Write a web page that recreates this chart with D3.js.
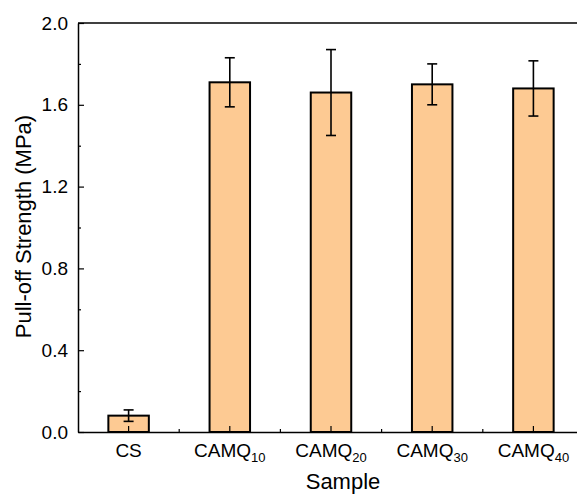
<!DOCTYPE html>
<html lang="en">
<script src="https://d3js.org/d3.v7.min.js"></script>
<style>
  body { margin: 0; background: #fff; }
  svg { font-family: Arial, "Liberation Sans", sans-serif; }
  .bar { fill: #fdca93; stroke: #000; stroke-width: 2; }
  .err { stroke: #000; stroke-width: 1.6; fill: none; }
</style>
<body>
<svg id="chart" width="577" height="495"></svg>
<script>
  // sample names, base part and subscript part
  var samples = ["CS", "CAMQ10", "CAMQ20", "CAMQ30", "CAMQ40"];
  var labelBase = ["CS", "CAMQ", "CAMQ", "CAMQ", "CAMQ"];
  var labelSub = ["", "10", "20", "30", "40"];
  var strength = [0.08, 1.71, 1.66, 1.70, 1.68];
  var errors = [0.028, 0.12, 0.21, 0.10, 0.135];
  var yTicks = [0.0, 0.4, 0.8, 1.2, 1.6, 2.0];
  var yMinorTicks = [0.2, 0.6, 1.0, 1.4, 1.8];

  var svg = d3.select("#chart");
  var plotLeft = 78, plotRight = 584, plotTop = 23, plotBottom = 432;

  var x = d3.scaleBand()
      .domain(samples)
      .range([plotLeft, plotRight])
      .paddingInner(0.6)
      .paddingOuter(0.3);
  var y = d3.scaleLinear()
      .domain([0, 2.0])
      .range([plotBottom, plotTop]);

  // bars
  svg.append("g").selectAll("rect")
    .data(samples)
    .enter()
    .append("rect")
      .attr("class", "bar")
      .attr("x", function(d) { return x(d); })
      .attr("width", x.bandwidth())
      .attr("y", function(d, i) { return y(strength[i]); })
      .attr("height", function(d, i) { return y(0) - y(strength[i]); });

  // error bars
  var eg = svg.append("g");
  samples.forEach(function(d, i) {
    var cx = x(d) + x.bandwidth() / 2;
    var hi = y(strength[i] + errors[i]), lo = y(strength[i] - errors[i]);
    eg.append("line").attr("class", "err").attr("x1", cx).attr("x2", cx).attr("y1", hi).attr("y2", lo);
    eg.append("line").attr("class", "err").attr("x1", cx - 5).attr("x2", cx + 5).attr("y1", hi).attr("y2", hi);
    eg.append("line").attr("class", "err").attr("x1", cx - 5).attr("x2", cx + 5).attr("y1", lo).attr("y2", lo);
  });

  // top frame line
  svg.append("line")
    .attr("x1", plotLeft).attr("x2", plotRight)
    .attr("y1", plotTop).attr("y2", plotTop)
    .attr("stroke", "#000").attr("stroke-width", 1.5);

  // y axis, inward ticks
  var yAxis = svg.append("g")
    .attr("transform", "translate(" + plotLeft + ",0)")
    .call(d3.axisLeft(y)
      .tickValues(yTicks)
      .tickFormat(d3.format(".1f"))
      .tickSizeInner(-6)
      .tickSizeOuter(0)
      .tickPadding(10));
  svg.append("g")
    .attr("transform", "translate(" + plotLeft + ",0)")
    .call(d3.axisLeft(y).tickValues(yMinorTicks).tickFormat("").tickSizeInner(-3).tickSizeOuter(0))
    .select(".domain").remove();

  // x axis, inward ticks
  svg.append("g")
    .attr("transform", "translate(0," + plotBottom + ")")
    .call(d3.axisBottom(x).tickFormat("").tickSizeInner(-6).tickSizeOuter(0));
  // minor ticks between categories
  svg.append("g").selectAll("line")
    .data(samples.slice(1))
    .enter()
    .append("line")
      .attr("x1", function(d) { return x(d) + x.bandwidth() / 2 - x.step() / 2; })
      .attr("x2", function(d) { return x(d) + x.bandwidth() / 2 - x.step() / 2; })
      .attr("y1", plotBottom).attr("y2", plotBottom - 3)
      .attr("stroke", "#000").attr("stroke-width", 1.2);

  svg.selectAll(".domain").attr("stroke-width", 1.5);
  svg.selectAll(".tick line").attr("stroke-width", 1.2);
  yAxis.attr("font-family", null).attr("font-size", null);
  yAxis.selectAll("text").style("font-size", "19px").attr("fill", "#000");

  // x tick labels with subscripts
  var xl = svg.append("g").style("font-size", "19px").attr("text-anchor", "middle");
  samples.forEach(function(d, i) {
    var t = xl.append("text")
      .attr("x", x(d) + x.bandwidth() / 2)
      .attr("y", 457);
    t.append("tspan").text(labelBase[i]);
    if (labelSub[i]) {
      t.append("tspan").style("font-size", "13px").attr("dy", 5).text(labelSub[i]);
    }
  });

  // axis titles
  svg.append("text")
    .attr("x", 343)
    .attr("y", 489)
    .attr("text-anchor", "middle")
    .style("font-size", "22px")
    .text("Sample");
  svg.append("text")
    .attr("transform", "translate(31," + ((110 + 343) / 2) + ") rotate(-90)")
    .attr("text-anchor", "middle")
    .style("font-size", "22px")
    .text("Pull-off Strength (MPa)");
</script>
</body>
</html>
